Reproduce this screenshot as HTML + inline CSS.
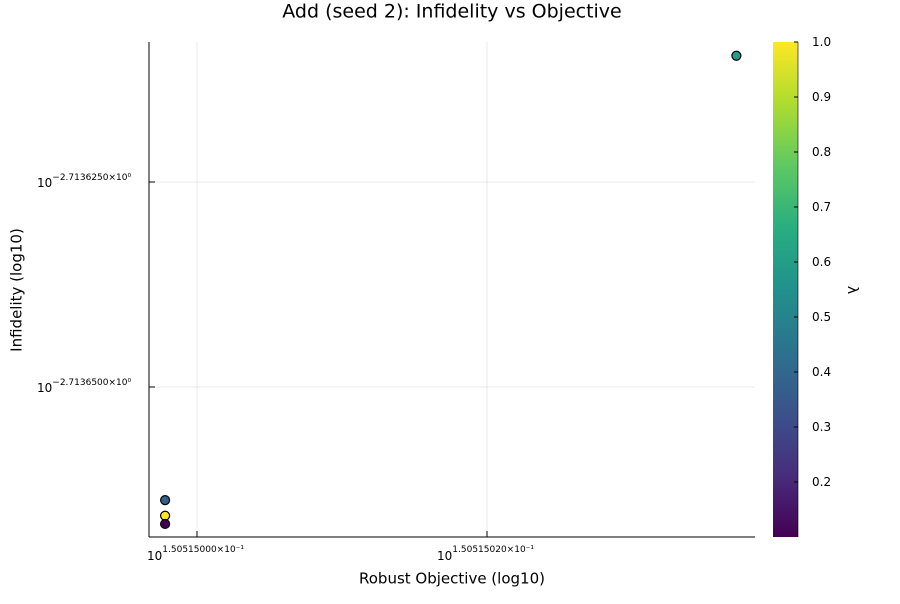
<!DOCTYPE html>
<html><head><meta charset="utf-8"><style>
body{margin:0;background:#fff;font-family:"DejaVu Sans","Liberation Sans",sans-serif}
</style></head><body>
<svg id="chart" width="900" height="600" xmlns="http://www.w3.org/2000/svg" font-family="DejaVu Sans, Liberation Sans, sans-serif">
<defs><linearGradient id="vir" x1="0" y1="1" x2="0" y2="0">
<stop offset="0" stop-color="#440154"/><stop offset="0.125" stop-color="#472d7b"/><stop offset="0.25" stop-color="#3b528b"/><stop offset="0.375" stop-color="#2c728e"/><stop offset="0.5" stop-color="#21918c"/><stop offset="0.625" stop-color="#28ae80"/><stop offset="0.75" stop-color="#5ec962"/><stop offset="0.875" stop-color="#addc30"/><stop offset="1" stop-color="#fde725"/>
</linearGradient></defs>
<text x="452" y="12" text-anchor="middle" dominant-baseline="middle" font-size="19">Add (seed 2): Infidelity vs Objective</text>
<g id="grid"></g>
<line x1="149" y1="537" x2="755" y2="537" stroke="#000"/>
<line x1="149" y1="42" x2="149" y2="537" stroke="#000"/>
<g id="ticks"></g>
<g id="points"></g>
<text x="452" y="579" text-anchor="middle" dominant-baseline="middle" font-size="15">Robust Objective (log10)</text>
<text transform="translate(17,290) rotate(-90)" text-anchor="middle" dominant-baseline="middle" font-size="15">Infidelity (log10)</text>
<rect x="773" y="42" width="25" height="495" fill="url(#vir)"/>
<line x1="798" y1="42" x2="798" y2="537" stroke="#000" stroke-width="0.6"/>
<g id="cbticks"></g>
<text transform="translate(852,290) rotate(90)" text-anchor="middle" dominant-baseline="middle" font-size="14">λ</text>
</svg>
<script>
// x: offset from 1.50515000e-1 in units of 1e-8 ; y: offset from -2.7136250 in units of 1e-6
const xTickVals=[0,2];
const xTickLabels=["1.50515000×10⁻¹","1.50515020×10⁻¹"];
const yTickVals=[0,-25];
const yTickLabels=["−2.7136250×10⁰","−2.7136500×10⁰"];
const xVals=[-0.22,-0.22,-0.22,3.72];
const yVals=[-38.8,-40.7,-41.7,15.4];
const lambdaVals=[0.37,1.0,0.1,0.6];
const cbTicks=[0.2,0.3,0.4,0.5,0.6,0.7,0.8,0.9,1.0];
const NS="http://www.w3.org/2000/svg";
const X=v=>197+v*145, Y=v=>182-v*8.2, C=v=>537-(v-0.1)/0.9*495;
const stops=[[68,1,84],[71,45,123],[59,82,139],[44,114,142],[33,145,140],[40,174,128],[94,201,98],[173,220,48],[253,231,37]];
function vir(t){t=Math.max(0,Math.min(1,t))*8;const i=Math.min(7,Math.floor(t)),f=t-i,a=stops[i],b=stops[i+1];return`rgb(${a.map((c,k)=>Math.round(c+(b[k]-c)*f)).join(",")})`;}
function mk(tag,attrs,parent,text){const e=document.createElementNS(NS,tag);for(const k in attrs)e.setAttribute(k,attrs[k]);if(text)e.textContent=text;document.getElementById(parent).appendChild(e);return e;}
xTickVals.forEach((v,i)=>{
 const g=mk("line",{x1:X(v),x2:X(v),y1:42,y2:537,stroke:"#000","stroke-opacity":0.08},"grid");
 
 
 mk("line",{x1:X(v),x2:X(v),y1:537,y2:531,stroke:"#000"},"ticks");
 const t=mk("text",{x:X(v)-50,y:560,"font-size":12},"ticks");
 
 
 t.innerHTML=`10<tspan dy="-8" font-size="9">${xTickLabels[i]}</tspan>`;
});
yTickVals.forEach((v,i)=>{
 const g=mk("line",{x1:149,x2:755,y1:Y(v),y2:Y(v),stroke:"#000","stroke-opacity":0.08},"grid");
 
 
 mk("line",{x1:149,x2:155,y1:Y(v),y2:Y(v),stroke:"#000"},"ticks");
 const t=mk("text",{x:37,y:Y(v)+5,"font-size":12},"ticks");
 
 
 t.innerHTML=`10<tspan dy="-7" font-size="9">${yTickLabels[i]}</tspan>`;
});
xVals.forEach((v,i)=>{
 const c=mk("circle",{cx:X(v),cy:Y(yVals[i]),r:4.5,fill:vir((lambdaVals[i]-0.1)/0.9),stroke:"#000","stroke-width":1.2},"points");
 
 
});
cbTicks.forEach(v=>{
 mk("line",{x1:794,x2:798,y1:C(v),y2:C(v),stroke:"#000"},"cbticks");
 const t=mk("text",{x:812,y:C(v)+4,"font-size":12},"cbticks",v.toFixed(1));
 
 
});
</script>
</body></html>
